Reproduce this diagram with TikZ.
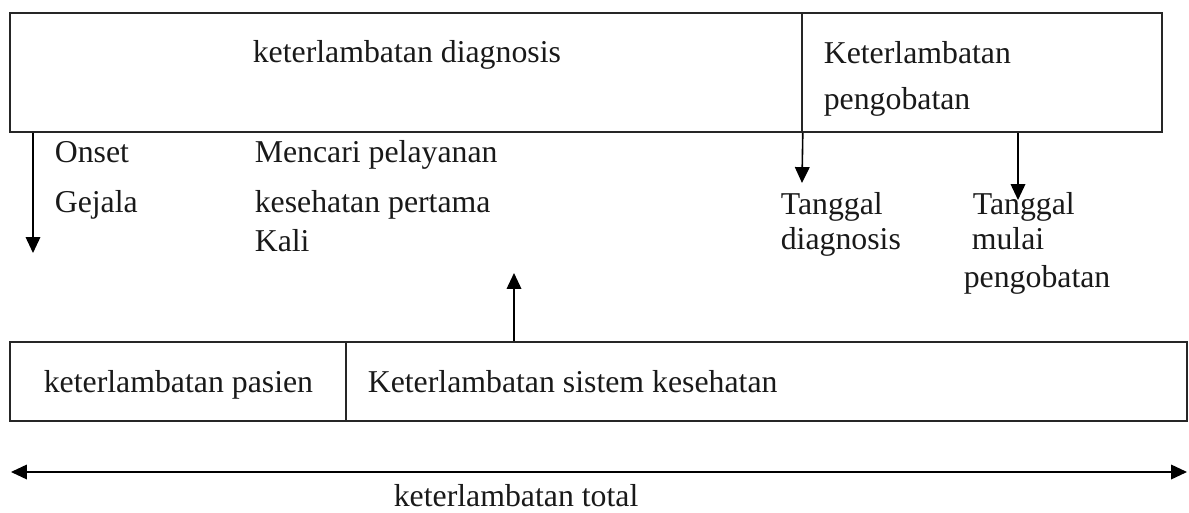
\documentclass[tikz,border=0pt]{standalone}
\usepackage{fontspec}
\setmainfont{Liberation Serif}
\usetikzlibrary{arrows.meta, fit}

\begin{document}
\begin{tikzpicture}[
  x=0.3774pt, y=-0.3774pt, font=\fontsize{12}{14}\selectfont,
  >={Triangle[length=6pt, width=5.5pt]}, line width=0.6pt,
  box/.style={draw=black!85, inner sep=0pt},
  lbl/.style={anchor=base west, inner sep=0pt, text=black!90}
]
\useasboundingbox (0,0) rectangle (1189,513);

% upper row: diagnosis and treatment delay
\node[box, fit={(10,13) (802,132)}] (diag) {};
\node[box, fit={(802,13) (1162,132)}] (treat) {};
\node[lbl] (diagtxt) at (252,63) {keterlambatan diagnosis};
\node[lbl] (treattxt1) at (823,64) {Keterlambatan};
\node[lbl] (treattxt2) at (823,110) {pengobatan};

% lower row: patient and health system delay
\node[box, fit={(10,342) (346,421)}] (pasien) {};
\node[box, fit={(346,342) (1187,421)}] (sistem) {};
\node[lbl] (pasientxt) at (43,393) {keterlambatan pasien};
\node[lbl] (sistemtxt) at (367,393) {Keterlambatan sistem kesehatan};

% time points
\node[lbl] (onset1) at (54,163) {Onset};
\node[lbl] (onset2) at (54,213) {Gejala};
\node[lbl] (cari1) at (254,163) {Mencari pelayanan};
\node[lbl] (cari2) at (254,213) {kesehatan pertama};
\node[lbl] (cari3) at (254,252) {Kali};
\node[lbl] (tgldiag1) at (780,215) {Tanggal};
\node[lbl] (tgldiag2) at (780,250) {diagnosis};
\node[lbl] (tglobat1) at (972,215) {Tanggal};
\node[lbl] (tglobat2) at (971,250) {mulai};
\node[lbl] (tglobat3) at (963,288) {pengobatan};

% arrow ends
\coordinate (onsetend) at (33,253);
\coordinate (diagend) at (802,183);
\coordinate (obatend) at (1018,200);
\coordinate (cariend) at (514,273);
\coordinate (totL) at (11,472);
\coordinate (totR) at (1187,472);

\draw[->] (onsetend |- diag.south) -- (onsetend);
\draw[->] (diag.south east) -- (diagend);
\draw[->] (obatend |- treat.south) -- (obatend);
\draw[->] (cariend |- sistem.north) -- (cariend);
\draw[<->] (totL) -- (totR);
\node[lbl] (total) at (393,507) {keterlambatan total};

\end{tikzpicture}
\end{document}
